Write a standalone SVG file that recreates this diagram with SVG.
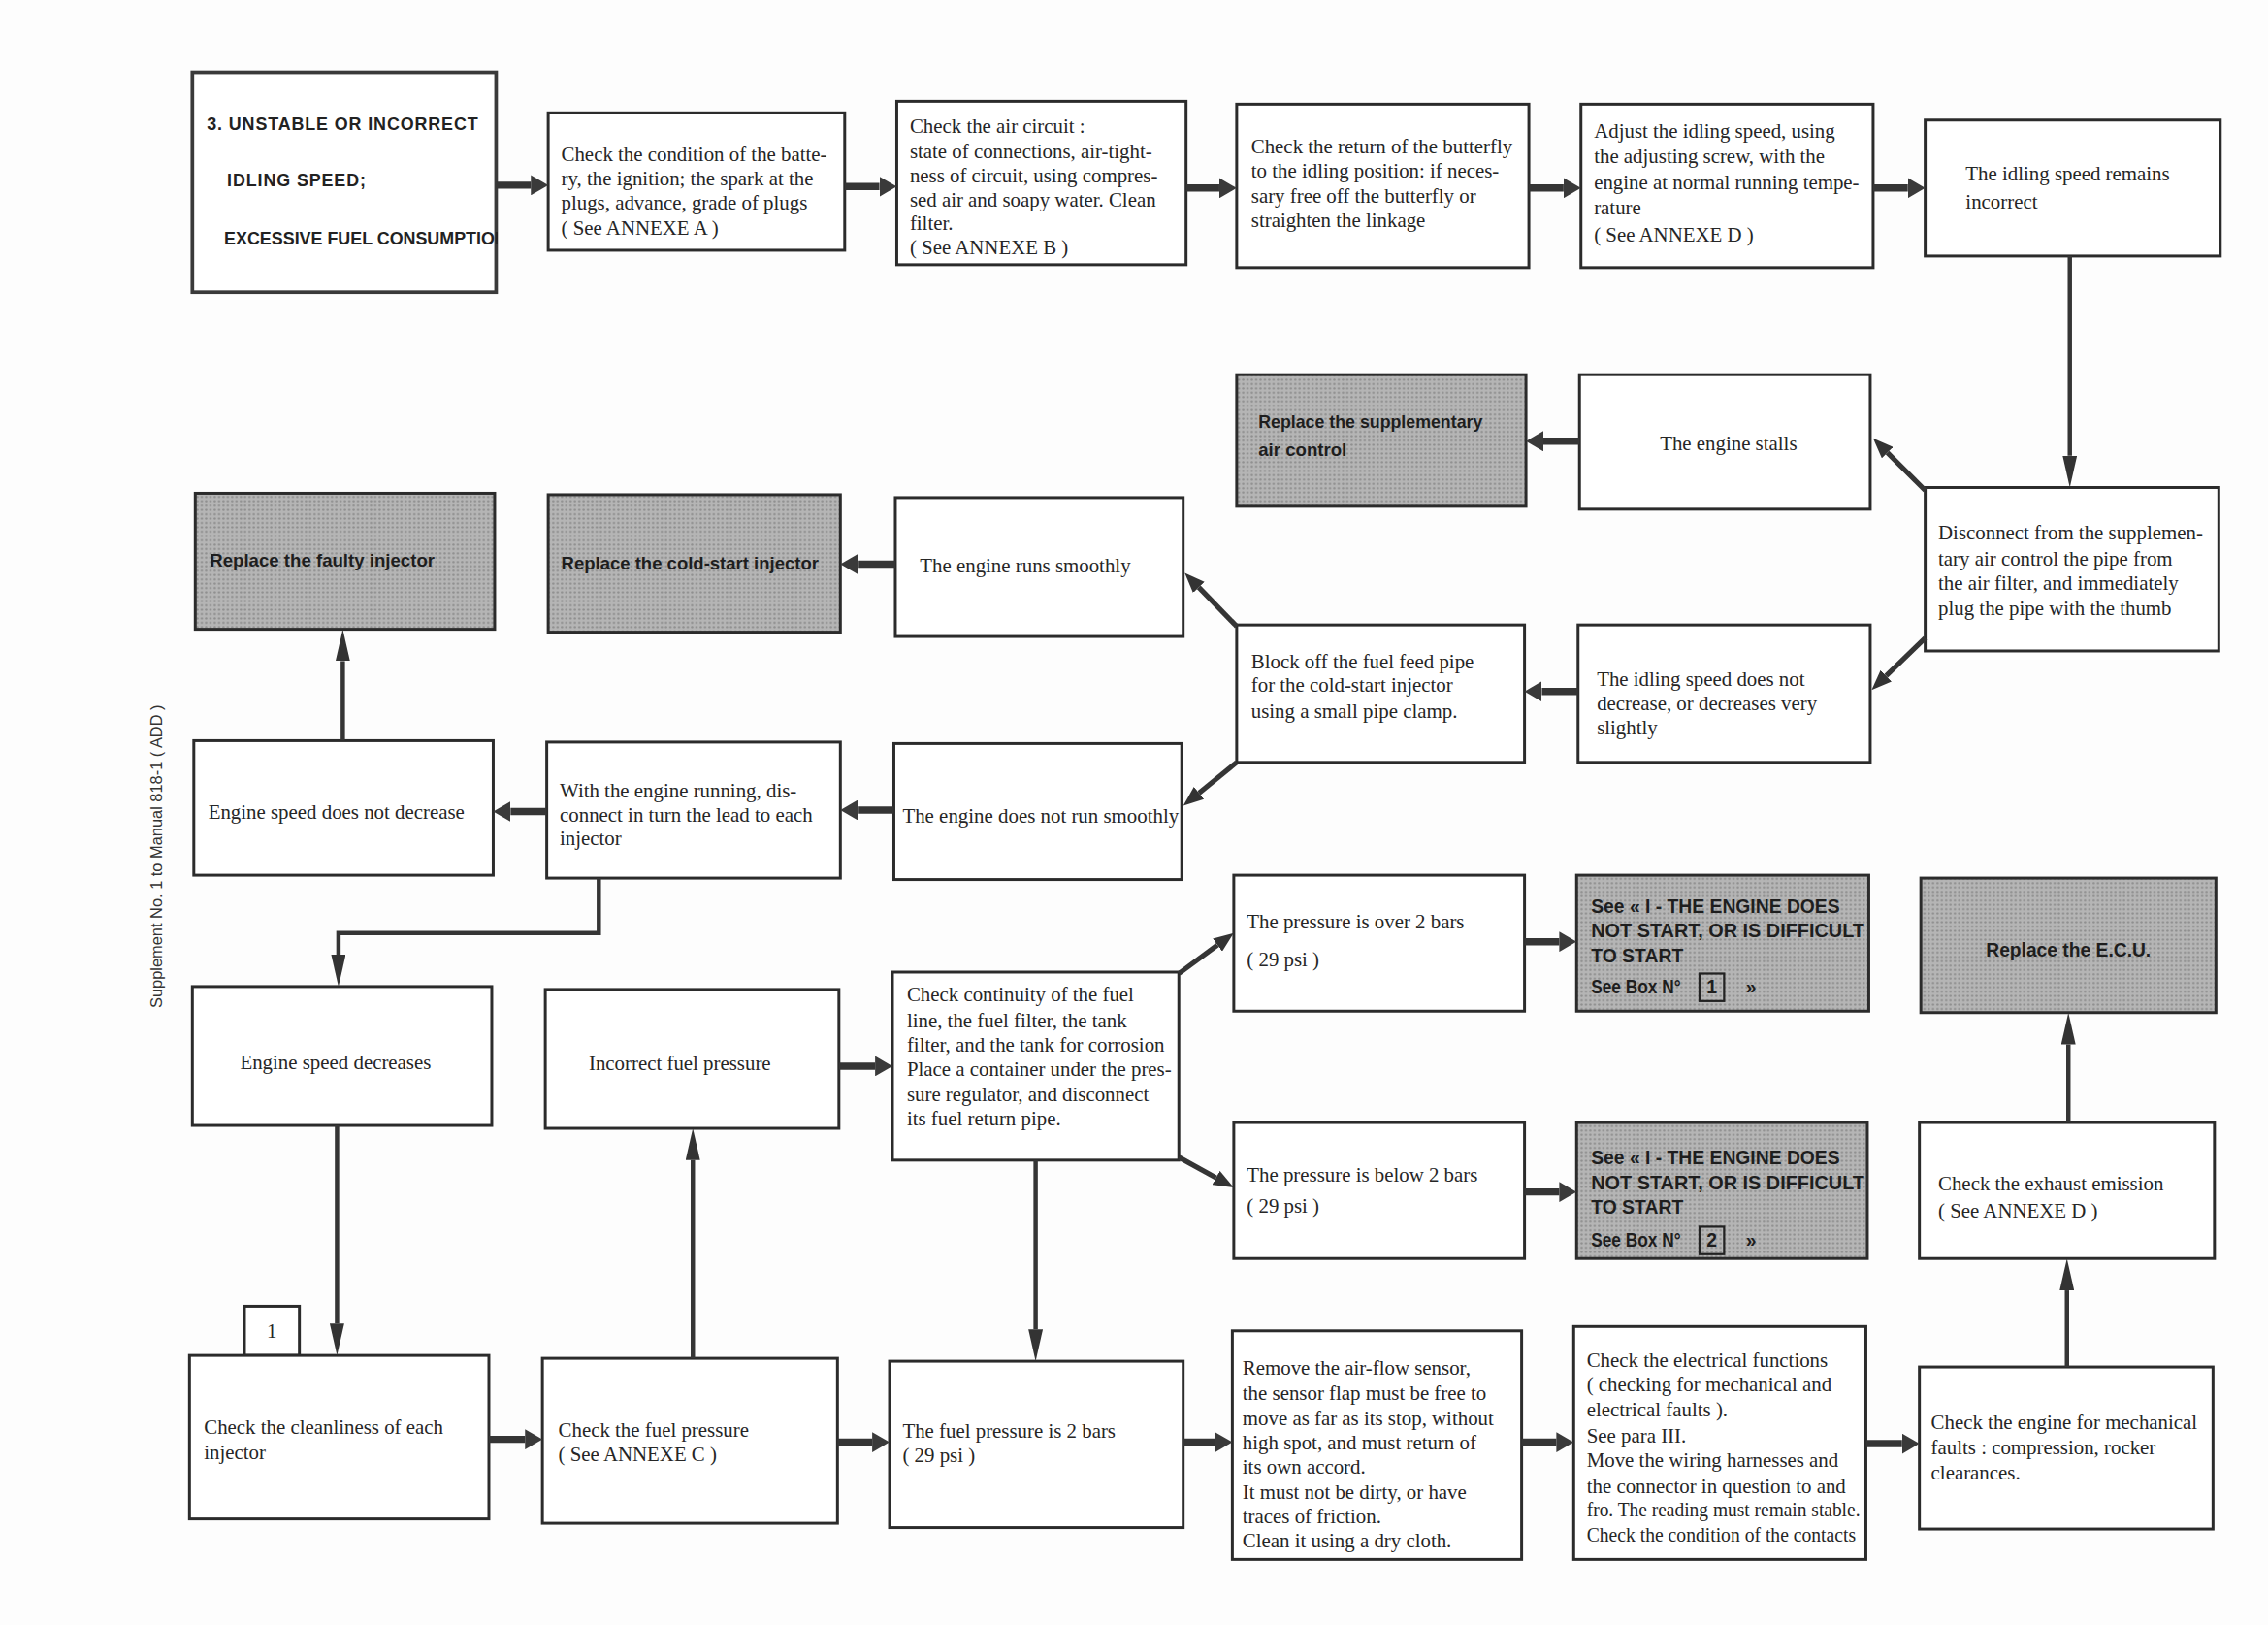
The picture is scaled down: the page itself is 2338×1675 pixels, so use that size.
<svg xmlns="http://www.w3.org/2000/svg" width="2338" height="1675" viewBox="0 0 2338 1675">
<defs>
<style>
.b{fill:#fff;stroke:#2b2b2b;stroke-width:2}
.g{fill:url(#dots);stroke:#2b2b2b;stroke-width:2}
.t{font-family:'Liberation Serif',serif;font-size:14px;fill:#262626}
.tb{font-family:'Liberation Sans',sans-serif;font-size:12.5px;font-weight:bold;fill:#1e1e1e}
.ts{font-family:'Liberation Sans',sans-serif;font-size:13px;font-weight:bold;fill:#1e1e1e}
.tt{font-family:'Liberation Sans',sans-serif;font-size:12px;font-weight:bold;fill:#222}
.m{text-anchor:middle}
.c1{fill:none;stroke:#353535;stroke-width:5;marker-end:url(#h1)}
.c2{fill:none;stroke:#353535;stroke-width:3;marker-end:url(#h2)}
.c3{fill:none;stroke:#353535;stroke-width:3.5;marker-end:url(#h3)}
</style>
<pattern id="dots" width="3" height="3" patternUnits="userSpaceOnUse">
<rect width="3" height="3" fill="#b5b5b5"/>
<circle cx="1.5" cy="1.5" r="0.8" fill="#8e8e8e"/>
</pattern>
<clipPath id="tclip"><rect x="133" y="50" width="211" height="152"/></clipPath>
<marker id="h1" markerUnits="userSpaceOnUse" viewBox="0 0 12 14" refX="0" refY="7" markerWidth="12" markerHeight="14" orient="auto">
<path d="M0,0 L12,7 L0,14 z" fill="#3a3a3a"/>
</marker>
<marker id="h2" markerUnits="userSpaceOnUse" viewBox="0 0 22 10" refX="0" refY="5" markerWidth="22" markerHeight="10" orient="auto">
<path d="M0,0 L22,5 L0,10 z" fill="#333"/>
</marker>
<marker id="h3" markerUnits="userSpaceOnUse" viewBox="0 0 14 11" refX="0" refY="5.5" markerWidth="14" markerHeight="11" orient="auto">
<path d="M0,0 L14,5.5 L0,11 z" fill="#333"/>
</marker>
</defs>
<rect width="2338" height="1675" fill="#fdfdfd"/>
<g transform="scale(1.49107)">
<text style="font-family:'Liberation Sans',sans-serif;font-size:11px;fill:#333" transform="translate(112,592) rotate(-90)" text-anchor="middle">Supplement No. 1 to Manual 818-1 ( ADD )</text>

<g id="title">
<rect x="133" y="50" width="210" height="152" fill="#fff" stroke="#3a3a3a" stroke-width="2.5"/>
<text class="tt" x="143" y="90" letter-spacing="0.6">3. UNSTABLE OR INCORRECT</text>
<text class="tt" x="157" y="129" letter-spacing="0.6">IDLING SPEED;</text>
<text class="tt" x="155" y="169" clip-path="url(#tclip)">EXCESSIVE FUEL CONSUMPTION</text>
</g>
<g id="annexeA">
<rect class="b" x="379" y="78" width="205" height="95"/>
<text class="t" x="388" y="111">Check the condition of the batte-</text>
<text class="t" x="388" y="128">ry, the ignition; the spark at the</text>
<text class="t" x="388" y="145">plugs, advance, grade of plugs</text>
<text class="t" x="388" y="162">( See ANNEXE A )</text>
</g>
<g id="annexeB">
<rect class="b" x="620" y="70" width="200" height="113"/>
<text class="t" x="629" y="92">Check the air circuit :</text>
<text class="t" x="629" y="109">state of connections, air-tight-</text>
<text class="t" x="629" y="126">ness of circuit, using compres-</text>
<text class="t" x="629" y="143">sed air and soapy water. Clean</text>
<text class="t" x="629" y="159">filter.</text>
<text class="t" x="629" y="176">( See ANNEXE B )</text>
</g>
<g id="butterfly">
<rect class="b" x="855" y="72" width="202" height="113"/>
<text class="t" x="865" y="106">Check the return of the butterfly</text>
<text class="t" x="865" y="123">to the idling position: if neces-</text>
<text class="t" x="865" y="140">sary free off the butterfly  or</text>
<text class="t" x="865" y="157">straighten the linkage</text>
</g>
<g id="annexeD">
<rect class="b" x="1093" y="72" width="202" height="113"/>
<text class="t" x="1102" y="95">Adjust the idling speed, using</text>
<text class="t" x="1102" y="113">the adjusting screw,  with the</text>
<text class="t" x="1102" y="131">engine at normal running tempe-</text>
<text class="t" x="1102" y="148">rature</text>
<text class="t" x="1102" y="167">( See ANNEXE D )</text>
</g>
<g id="remains">
<rect class="b" x="1331" y="83" width="204" height="94"/>
<text class="t" x="1359" y="125">The idling speed remains</text>
<text class="t" x="1359" y="144">incorrect</text>
</g>
<g id="replaceSupp">
<rect class="g" x="855" y="259" width="200" height="91"/>
<text class="tb" x="870" y="296" textLength="155" lengthAdjust="spacingAndGlyphs">Replace the supplementary</text>
<text class="tb" x="870" y="315">air control</text>
</g>
<g id="stalls">
<rect class="b" x="1092" y="259" width="201" height="93"/>
<text class="t m" x="1195" y="311">The engine stalls</text>
</g>
<g id="disconnect">
<rect class="b" x="1331" y="337" width="203" height="113"/>
<text class="t" x="1340" y="373">Disconnect from the supplemen-</text>
<text class="t" x="1340" y="391">tary air control the pipe from</text>
<text class="t" x="1340" y="408">the air filter, and immediately</text>
<text class="t" x="1340" y="425">plug the pipe with the thumb</text>
</g>
<g id="faulty">
<rect class="g" x="135" y="341" width="207" height="94"/>
<text class="tb" x="145" y="392">Replace the faulty injector</text>
</g>
<g id="coldstart">
<rect class="g" x="379" y="342" width="202" height="95"/>
<text class="tb" x="388" y="394" textLength="178" lengthAdjust="spacingAndGlyphs">Replace the cold-start injector</text>
</g>
<g id="runs">
<rect class="b" x="619" y="344" width="199" height="96"/>
<text class="t" x="636" y="396">The engine runs smoothly</text>
</g>
<g id="blockoff">
<rect class="b" x="855" y="432" width="199" height="95"/>
<text class="t" x="865" y="462">Block off the fuel feed pipe</text>
<text class="t" x="865" y="478">for the cold-start injector</text>
<text class="t" x="865" y="496">using a small pipe clamp.</text>
</g>
<g id="idlingnot">
<rect class="b" x="1091" y="432" width="202" height="95"/>
<text class="t" x="1104" y="474">The idling speed does not</text>
<text class="t" x="1104" y="491">decrease, or decreases very</text>
<text class="t" x="1104" y="508">slightly</text>
</g>
<g id="notdecrease">
<rect class="b" x="134" y="512" width="207" height="93"/>
<text class="t" x="144" y="566">Engine speed does not decrease</text>
</g>
<g id="withengine">
<rect class="b" x="378" y="513" width="203" height="94"/>
<text class="t" x="387" y="551">With the engine running, dis-</text>
<text class="t" x="387" y="568">connect in turn the lead to each</text>
<text class="t" x="387" y="584">injector</text>
</g>
<g id="notsmooth">
<rect class="b" x="618" y="514" width="199" height="94"/>
<text class="t" x="624" y="569" textLength="191" lengthAdjust="spacingAndGlyphs">The engine does not run smoothly</text>
</g>
<g id="decreases">
<rect class="b" x="133" y="682" width="207" height="96"/>
<text class="t m" x="232" y="739">Engine speed decreases</text>
</g>
<g id="incorrect">
<rect class="b" x="377" y="684" width="203" height="96"/>
<text class="t m" x="470" y="740">Incorrect fuel pressure</text>
</g>
<g id="continuity">
<rect class="b" x="617" y="672" width="198" height="130"/>
<text class="t" x="627" y="692">Check continuity of the fuel</text>
<text class="t" x="627" y="710">line, the fuel filter, the tank</text>
<text class="t" x="627" y="727">filter, and the tank for corrosion</text>
<text class="t" x="627" y="744">Place a container under the pres-</text>
<text class="t" x="627" y="761">sure regulator, and disconnect</text>
<text class="t" x="627" y="778">its fuel return pipe.</text>
</g>
<g id="over">
<rect class="b" x="853" y="605" width="201" height="94"/>
<text class="t" x="862" y="642">The pressure is over 2 bars</text>
<text class="t" x="862" y="668">( 29 psi )</text>
</g>
<g id="see1">
<rect class="g" x="1090" y="605" width="202" height="94"/>
<text class="ts" x="1100" y="631" textLength="172" lengthAdjust="spacingAndGlyphs">See « I - THE ENGINE DOES</text>
<text class="ts" x="1100" y="648" textLength="189" lengthAdjust="spacingAndGlyphs">NOT START, OR IS DIFFICULT</text>
<text class="ts" x="1100" y="665">TO START</text>
<text class="ts" x="1100" y="687" textLength="62" lengthAdjust="spacingAndGlyphs">See Box N°</text>
<rect x="1175" y="673" width="17" height="19" fill="none" stroke="#222" stroke-width="1.5"/>
<text class="ts m" x="1183.5" y="687">1</text>
<text class="ts" x="1207" y="687">»</text>
</g>
<g id="ecu">
<rect class="g" x="1328" y="607" width="204" height="93"/>
<text class="ts m" x="1430" y="661" textLength="114" lengthAdjust="spacingAndGlyphs">Replace the E.C.U.</text>
</g>
<g id="below">
<rect class="b" x="853" y="776" width="201" height="94"/>
<text class="t" x="862" y="817">The pressure is below 2 bars</text>
<text class="t" x="862" y="838">( 29 psi )</text>
</g>
<g id="see2">
<rect class="g" x="1090" y="776" width="201" height="94"/>
<text class="ts" x="1100" y="805" textLength="172" lengthAdjust="spacingAndGlyphs">See « I - THE ENGINE DOES</text>
<text class="ts" x="1100" y="822" textLength="189" lengthAdjust="spacingAndGlyphs">NOT START, OR IS DIFFICULT</text>
<text class="ts" x="1100" y="839">TO START</text>
<text class="ts" x="1100" y="862" textLength="62" lengthAdjust="spacingAndGlyphs">See Box N°</text>
<rect x="1175" y="848" width="17" height="19" fill="none" stroke="#222" stroke-width="1.5"/>
<text class="ts m" x="1183.5" y="862">2</text>
<text class="ts" x="1207" y="862">»</text>
</g>
<g id="exhaust">
<rect class="b" x="1327" y="776" width="204" height="94"/>
<text class="t" x="1340" y="823">Check the exhaust emission</text>
<text class="t" x="1340" y="842">( See ANNEXE D )</text>
</g>
<g id="box1">
<rect class="b" x="169" y="903" width="38" height="34" stroke-width="1.5"/>
<text class="t m" x="188" y="925">1</text>
</g>
<g id="cleanliness">
<rect class="b" x="131" y="937" width="207" height="113"/>
<text class="t" x="141" y="991">Check the cleanliness of each</text>
<text class="t" x="141" y="1009">injector</text>
</g>
<g id="fuelpressure">
<rect class="b" x="375" y="939" width="204" height="114"/>
<text class="t" x="386" y="993">Check the fuel pressure</text>
<text class="t" x="386" y="1010">( See ANNEXE C )</text>
</g>
<g id="twobars">
<rect class="b" x="615" y="941" width="203" height="115"/>
<text class="t" x="624" y="994">The fuel pressure is 2 bars</text>
<text class="t" x="624" y="1011">( 29 psi )</text>
</g>
<g id="airflow">
<rect class="b" x="852" y="920" width="200" height="158"/>
<text class="t" x="859" y="950">Remove the air-flow sensor,</text>
<text class="t" x="859" y="968">the sensor flap must be free to</text>
<text class="t" x="859" y="985">move as far as its stop, without</text>
<text class="t" x="859" y="1002">high spot, and must return of</text>
<text class="t" x="859" y="1019">its own accord.</text>
<text class="t" x="859" y="1036">It must not be dirty, or have</text>
<text class="t" x="859" y="1053">traces of friction.</text>
<text class="t" x="859" y="1070">Clean it using a dry cloth.</text>
</g>
<g id="electrical">
<rect class="b" x="1088" y="917" width="202" height="161"/>
<text class="t" x="1097" y="945">Check the electrical functions</text>
<text class="t" x="1097" y="962">( checking for mechanical and</text>
<text class="t" x="1097" y="979">electrical faults ).</text>
<text class="t" x="1097" y="997">See para III.</text>
<text class="t" x="1097" y="1014">Move the wiring harnesses and</text>
<text class="t" x="1097" y="1032">the connector in question to and</text>
<text class="t" x="1097" y="1048" textLength="189" lengthAdjust="spacingAndGlyphs">fro. The reading must remain stable.</text>
<text class="t" x="1097" y="1066" textLength="186" lengthAdjust="spacingAndGlyphs">Check the condition of the contacts</text>
</g>
<g id="mechanical">
<rect class="b" x="1327" y="945" width="203" height="112"/>
<text class="t" x="1335" y="988">Check the engine for mechanical</text>
<text class="t" x="1335" y="1005">faults : compression, rocker</text>
<text class="t" x="1335" y="1023">clearances.</text>
</g>

<g id="connectors">
<path class="c1" d="M343,128 H367"/>
<path class="c1" d="M584,129 H608"/>
<path class="c1" d="M820,130 H843"/>
<path class="c1" d="M1057,130 H1081"/>
<path class="c1" d="M1295,130 H1319"/>
<path class="c2" d="M1431,177 V315"/>
<path class="c3" d="M1331,339 L1304.9,312.9"/>
<path class="c1" d="M1092,305 H1067"/>
<path class="c3" d="M1331,441 L1304,467.2"/>
<path class="c1" d="M1091,478 H1066"/>
<path class="c3" d="M855,433 L828.8,406"/>
<path class="c3" d="M855,527 L828.9,548.2"/>
<path class="c1" d="M619,390 H593"/>
<path class="c1" d="M618,560 H593"/>
<path class="c1" d="M378,561 H353"/>
<path class="c2" d="M237,512 V457"/>
<path class="c2" d="M414,607 V645 H234 V660" stroke-width="4"/>
<path class="c1" d="M580,737 H605"/>
<path class="c3" d="M815,673 L841.7,653.3"/>
<path class="c3" d="M815,800 L840.7,814.2"/>
<path class="c1" d="M1054,651 H1078"/>
<path class="c1" d="M1054,824 H1078"/>
<path class="c2" d="M1430,776 V722"/>
<path class="c2" d="M233,778 V915"/>
<path class="c2" d="M479,939 V802"/>
<path class="c2" d="M716,802 V919"/>
<path class="c1" d="M338,995 H363"/>
<path class="c1" d="M579,997 H603"/>
<path class="c1" d="M818,997 H840"/>
<path class="c1" d="M1052,997 H1076"/>
<path class="c1" d="M1290,998 H1315"/>
<path class="c2" d="M1429,945 V892"/>
</g>
</g>
</svg>
